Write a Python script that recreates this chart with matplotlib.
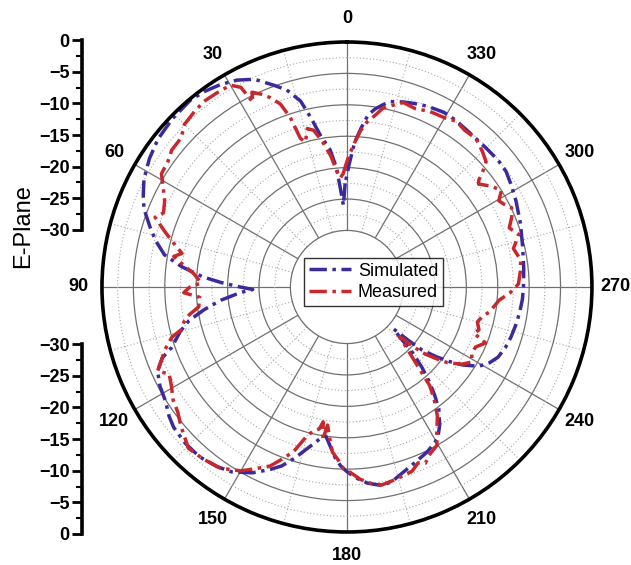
import numpy as np
import matplotlib
matplotlib.use("Agg")
import matplotlib.pyplot as plt
from matplotlib.ticker import FixedLocator, MultipleLocator

plt.rcParams['font.family'] = ['Liberation Sans', 'DejaVu Sans']

# E-plane pattern, angle in degrees, gain in dB
sim_ang = [1, 2.5, 3.5, 5, 7, 10, 12, 14, 17, 20, 24, 28, 32, 36, 40, 46, 52, 57, 62, 66,
           69, 74, 77, 80, 83, 86, 88, 90, 91.5, 93, 96, 99, 102, 105, 109, 111, 114, 118, 122,
           126, 129, 134, 139, 144, 148, 153, 157, 160, 163, 165, 168, 170, 172, 174, 176, 178,
           180, 183, 186, 190, 193, 197, 201, 206, 211, 214, 217, 219, 221, 223, 225, 227, 228,
           229, 230, 232, 234, 236, 239, 242, 245, 249, 253, 258, 262, 266, 270, 276, 283, 290,
           297, 302, 306, 310, 315, 322, 327, 331, 336, 340, 343, 347, 349, 351, 353, 355, 357,
           359]
sim_db = [-22.5, -26, -24, -20, -17, -14.4, -11.5, -8.5, -6.2, -4.8, -2.8, -1.7, -1.0, -0.5,
          -0.2, -0.4, -0.8, -1.5, -2.4, -3.5, -4.4, -6.6, -8, -9.5, -12.5, -16, -19, -22, -24,
          -22, -18.8, -16, -13.3, -11.5, -9.5, -7.5, -6, -5.3, -4.9, -4.0, -3.5, -3.2, -3.2,
          -3.7, -4.3, -5.8, -7.4, -8.7, -10.5, -11.8, -13.5, -14.5, -15, -13.5, -11.8, -10.5,
          -9.6, -8.5, -7.6, -6.9, -7.2, -8.2, -9, -9.8, -10.9, -12.6, -14.7, -16.8, -19, -21.5,
          -24.3, -28, -29, -26, -23.4, -21, -18.8, -16.8, -14.5, -13.3, -12.5, -12, -11.7, -11.4,
          -11.2, -11.0, -10.9, -10.7, -10.3, -9.6, -8.8, -8.2, -7.7, -7.6, -7.7, -7.6, -7.3,
          -7.2, -7.5, -7.9, -8.2, -8.7, -9.5, -10.3, -11.4, -13.7, -16, -19.5]

meas_ang = [0, 2, 3.5, 5, 7, 9.6, 12, 14, 16, 17.4, 18.5, 20, 22, 24, 26, 27, 28, 30, 34, 37.6,
            41, 45, 48, 52, 55, 58.6, 61, 64.7, 68, 70, 72.8, 75, 78.5, 80, 82, 85, 88.4, 90, 92,
            94, 97.6, 100, 102, 104.4, 106, 108.9, 111, 114, 116, 119.5, 123, 126.5, 130, 135.5,
            140, 145, 150, 153, 156.8, 159, 162, 165, 167, 169, 170, 171, 172, 174, 175, 177,
            179, 181, 184, 187, 190, 193, 196, 199.5, 202, 204, 206, 209.6, 212, 215, 218, 220,
            223, 225, 226.7, 228, 229, 231, 233, 236, 239, 242, 245, 248, 250, 252, 255, 257.5,
            260, 262, 265, 268, 271, 275, 278.8, 283, 287, 290, 293, 295.7, 298, 299.6, 302, 305,
            308, 309, 311, 312, 315, 319, 323, 326.6, 330, 334.9, 339, 343, 346, 348.7, 351, 353,
            355, 357, 359]
meas_db = [-19, -21, -21.6, -20.5, -18, -15.5, -13.5, -13, -15, -14.2, -10.5, -8, -6.5, -5.4,
           -4.5, -6, -3, -1.9, -1.8, -1.7, -2, -2.4, -3.5, -3.6, -4.2, -4.4, -5.5, -6.9, -7.5,
           -6.5, -8.5, -10, -12.2, -11, -12.5, -14.5, -15.8, -14, -13, -15.5, -15.2, -13.5,
           -12.5, -11.8, -10, -8.4, -7.5, -6, -7.5, -6.9, -6, -5.5, -4.5, -3, -3.3, -3.8, -5.2,
           -6.5, -8, -9.5, -11.4, -14.5, -15.5, -16, -17.2, -14.5, -16.8, -14, -12.6, -11.5,
           -10, -9.5, -8.3, -7.5, -7, -7.3, -7.6, -7.9, -8.8, -8.3, -9.2, -10, -12, -13.9, -16.5,
           -18.5, -23.8, -26, -27.5, -25, -23, -21, -19, -17, -15.8, -16.5, -16.4, -15.2, -17.5,
           -16.9, -17.5, -17, -16, -15.5, -14.7, -13, -11.7, -11.3, -11, -11.8, -10.4, -11.5,
           -10.5, -9.9, -10.8, -11.2, -10, -11, -12.4, -12, -10, -9.2, -8.5, -7.7, -7.8, -7.4,
           -7.9, -8.1, -8.6, -8.3, -9.2, -10, -11.5, -12.5, -14, -16, -18]

fig = plt.figure(figsize=(6.31, 5.65), dpi=100)

# polar plot with a hole in the middle (the -30 dB ring)
ax = fig.add_axes([0.1616, 0.0584, 0.7765, 0.8673], projection='polar')
ax.set_theta_zero_location('N')
ax.set_theta_direction(1)
ax.set_rlim(-30, 0)
ax.set_rorigin(-39.0)

def closed(a, v):
    a = np.deg2rad(np.append(a, a[0] + 360))
    return a, np.append(v, v[0])

t, r = closed(sim_ang, sim_db)
ax.plot(t, r, color='#3b2a9c', lw=2.5, ls=(0, (5, 1.6, 1, 1.6)), label='Simulated')
t, r = closed(meas_ang, meas_db)
ax.plot(t, r, color='#c8282c', lw=2.5, ls=(0, (5, 1.6, 1, 1.6)), label='Measured')

ax.set_xticks(np.deg2rad(np.arange(0, 360, 30)))
ax.set_xticklabels([str(a) for a in range(0, 360, 30)], fontsize=13, fontweight='bold')
ax.xaxis.set_minor_locator(FixedLocator(np.deg2rad(np.arange(15, 360, 30))))
ax.tick_params(axis='x', which='major', direction='in', length=7, width=2, pad=10)
ax.tick_params(axis='x', which='minor', direction='out', length=3, width=1.5)

ax.set_yticks([-25, -20, -15, -10, -5])
ax.yaxis.set_minor_locator(MultipleLocator(2.5))
ax.set_yticklabels([])
ax.tick_params(axis='y', which='both', length=0)

ax.grid(which='major', color='#707070', lw=0.9, ls='-')
ax.grid(which='minor', color='#a8a8a8', lw=0.8, ls=(0, (1, 2)))

ax.spines['polar'].set_linewidth(2.6)
ax.spines['polar'].set_color('black')
ax.spines['inner'].set_color('#707070')
ax.spines['inner'].set_linewidth(0.9)

leg = ax.legend(loc='center', bbox_to_anchor=(0.592, 0.501), bbox_transform=fig.transFigure,
                fontsize=13, frameon=True, fancybox=False, handlelength=2.3,
                borderpad=0.25, labelspacing=0.25, handletextpad=0.4, borderaxespad=0)
leg.get_frame().set_edgecolor('black')
leg.get_frame().set_linewidth(1.0)

# radial scale bars on the left, upper and lower halves
for bottom, lims in [(0.593, (-30, 0)), (0.0549, (0, -30))]:
    sc = fig.add_axes([0.13, bottom, 0.001, 0.336])
    sc.set_ylim(*lims)
    for s in ['top', 'right', 'bottom']:
        sc.spines[s].set_visible(False)
    sc.spines['left'].set_linewidth(2.6)
    sc.set_xticks([])
    sc.yaxis.set_major_locator(MultipleLocator(5))
    sc.yaxis.set_minor_locator(MultipleLocator(2.5))
    sc.tick_params(axis='y', which='major', length=7, width=2, labelsize=13, pad=2)
    sc.tick_params(axis='y', which='minor', length=4, width=1.5)
    for lb in sc.get_yticklabels():
        lb.set_fontweight('bold')

fig.text(0.036, 0.6, 'E-Plane', rotation=90, fontsize=17, ha='center', va='center')

fig.savefig('out.png', dpi=100)
